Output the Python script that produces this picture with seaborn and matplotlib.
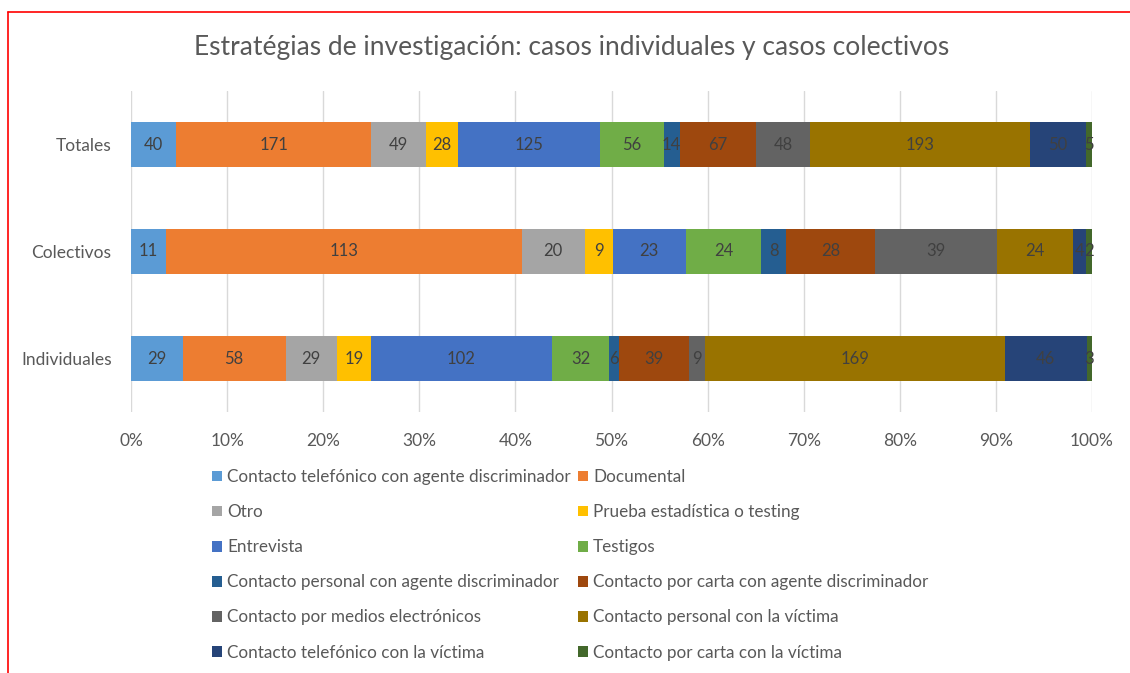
import numpy as np
import pandas as pd
import matplotlib
matplotlib.use('Agg')
import matplotlib.pyplot as plt
import seaborn as sns
from matplotlib.patches import Patch
from matplotlib.lines import Line2D

groups = ['Totales', 'Colectivos', 'Individuales']
series = ['Contacto telefónico con agente discriminador', 'Documental', 'Otro',
          'Prueba estadística o testing', 'Entrevista', 'Testigos',
          'Contacto personal con agente discriminador', 'Contacto por carta con agente discriminador',
          'Contacto por medios electrónicos', 'Contacto personal con la víctima',
          'Contacto telefónico con la víctima', 'Contacto por carta con la víctima']
totales = [40, 171, 49, 28, 125, 56, 14, 67, 48, 193, 50, 5]
colectivos = [11, 113, 20, 9, 23, 24, 8, 28, 39, 24, 4, 2]
individuales = [29, 58, 29, 19, 102, 32, 6, 39, 9, 169, 46, 3]
colors = ['#5B9BD5', '#ED7D31', '#A5A5A5', '#FFC000', '#4472C4', '#70AD47',
          '#255E91', '#9E480E', '#636363', '#997300', '#264478', '#43682B']
ticks = [0, 0.1, 0.2, 0.3, 0.4, 0.5, 0.6, 0.7, 0.8, 0.9, 1.0]

sns.set_theme(style='white')
plt.rcParams['font.family'] = ['Lato', 'DejaVu Sans']

df = pd.DataFrame([totales, colectivos, individuales], index=groups, columns=series)
share = df.div(df.sum(axis=1), axis=0)
cum = share.cumsum(axis=1)

fig = plt.figure(figsize=(11.3, 6.73), dpi=100)
ax = fig.add_axes([131 / 1130, 1 - 412 / 673, 961 / 1130, 321 / 673])

# stacked bars: draw the widest cumulative layer first, then overlay
for i in range(len(series) - 1, -1, -1):
    sns.barplot(x=cum[series[i]].values, y=groups, order=groups, orient='h',
                color=colors[i], width=0.42, linewidth=0, saturation=1, ax=ax)

for g_i, g in enumerate(groups):
    for i, s in enumerate(series):
        centre = cum.loc[g, s] - share.loc[g, s] / 2
        ax.text(centre, g_i, str(df.loc[g, s]), ha='center', va='center',
                fontsize=12, color='#404040')

ax.set_xlim(0, 1)
ax.set_xticks(ticks)
ax.set_xticklabels([f'{int(round(t * 100))}%' for t in ticks], fontsize=12.5, color='#595959')
ax.set_yticks(range(len(groups)))
ax.set_yticklabels(groups, fontsize=12.5, color='#595959')
ax.tick_params(axis='x', length=0, pad=15)
ax.tick_params(axis='y', length=0, pad=14)
ax.xaxis.grid(True, color='#D9D9D9', linewidth=1)
ax.set_axisbelow(True)
ax.set_xlabel('')
ax.set_ylabel('')
for sp in ax.spines.values():
    sp.set_visible(False)

fig.text(572 / 1130, 1 - 48 / 673, 'Estratégias de investigación: casos individuales y casos colectivos',
         ha='center', va='center', fontsize=19, color='#595959')

handles = [Patch(facecolor=c, edgecolor='none') for c in colors]
order = [0, 2, 4, 6, 8, 10, 1, 3, 5, 7, 9, 11]
fig.legend([handles[k] for k in order], [series[k] for k in order], ncol=2,
           loc='upper left', bbox_to_anchor=(200 / 1130, 1 - 457 / 673), frameon=False,
           fontsize=12.3, labelcolor='#595959', handlelength=0.6, handleheight=0.6,
           handletextpad=0.3, labelspacing=1.12, columnspacing=0.4, borderpad=0.2)

# red frame of the screenshot
fig.add_artist(Line2D([8 / 1130, 1], [1 - 12 / 673, 1 - 12 / 673], color='red', linewidth=1.2))
fig.add_artist(Line2D([8 / 1130, 8 / 1130], [0, 1 - 12 / 673], color='red', linewidth=1.2))

fig.savefig('out.png', dpi=100)
